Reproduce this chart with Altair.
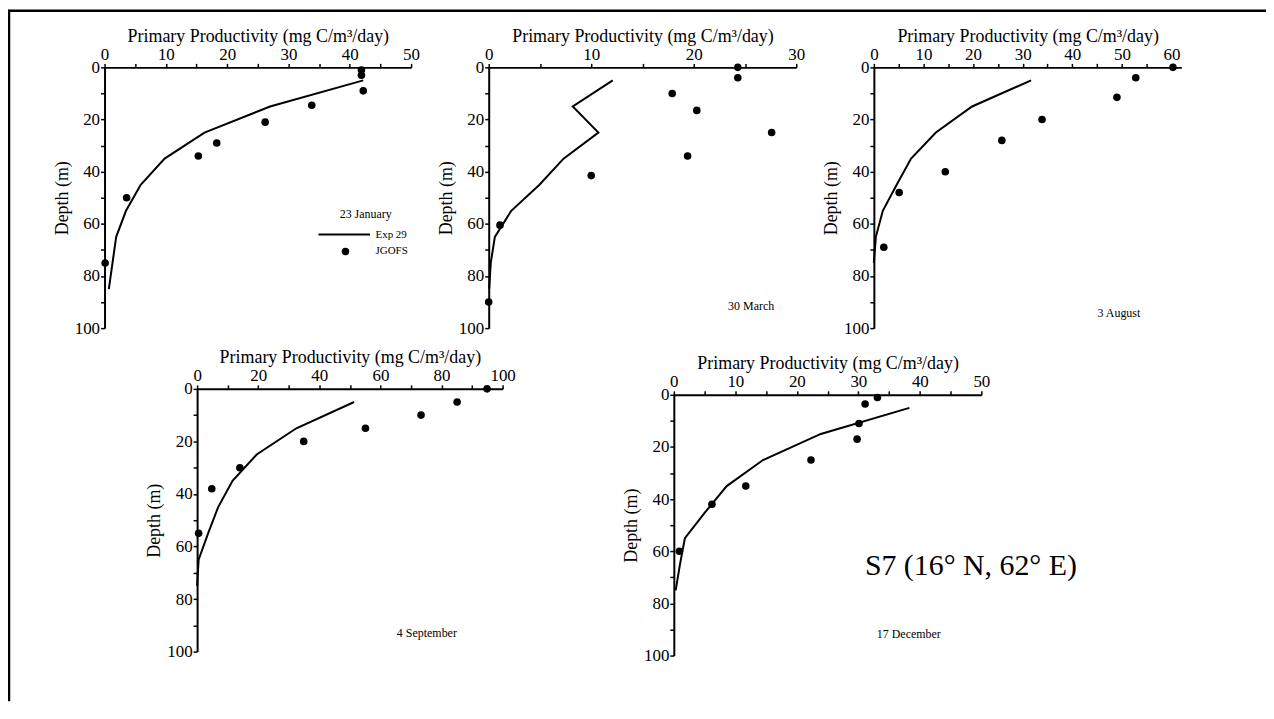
import altair as alt
import pandas as pd

FONT = "Liberation Serif"
W, H = 1264, 695

# ---------------- data ----------------
depth_9 = [5, 15, 25, 35, 45, 55, 65, 75, 85]
depth_8 = [5, 15, 25, 35, 45, 55, 65, 75]

jan_exp = [42.2, 27.0, 16.3, 9.8, 5.9, 3.5, 1.9, 1.3, 0.7]
jan_obs_pp = [41.9, 41.9, 42.2, 33.8, 26.2, 18.3, 15.3, 3.6, 0.1]
jan_obs_depth = [1, 3, 9, 14.5, 21, 29, 34, 50, 75]

mar_exp = [12.1, 8.2, 10.7, 7.3, 4.95, 2.2, 0.6, 0.2, 0.05]
mar_obs_pp = [24.3, 24.3, 17.9, 20.3, 27.6, 19.4, 10.0, 1.1, 0.0]
mar_obs_depth = [0, 4, 10, 16.5, 25, 34, 41.5, 60.5, 90]

aug_exp = [31.7, 19.8, 12.5, 7.5, 4.6, 1.8, 0.4, 0.0]
aug_obs_pp = [60.3, 52.8, 49.0, 33.9, 25.8, 14.4, 5.1, 2.0]
aug_obs_depth = [0, 4, 11.5, 20, 28, 40, 48, 69]

sep_exp = [51.4, 32.5, 19.5, 11.6, 6.9, 3.6, 0.5, 0.0]
sep_obs_pp = [94.9, 85.1, 73.3, 55.1, 34.9, 14.0, 4.8, 0.5]
sep_obs_depth = [0, 5, 10, 15, 20, 30, 38, 55]

dec_exp = [38.3, 23.9, 14.5, 8.6, 5.1, 1.8, 1.0, 0.3]
dec_obs_pp = [33.1, 31.1, 30.1, 29.8, 22.3, 11.7, 6.2, 0.9]
dec_obs_depth = [1, 3.5, 11, 17, 25, 35, 42, 60]

dates = ["23 January", "30 March", "3 August", "4 September", "17 December"]
date_pp = [42.6, 25.6, 49.4, 75.2, 38.2]
date_depth = [56.1, 91.6, 94.2, 92.8, 91.9]

legend_line_pp = [34.9, 43.3]
legend_line_depth = [64.1, 64.1]
legend_dot_pp = [39.3]
legend_dot_depth = [70.6]
legend_labels = ["Exp 29", "JGOFS"]
legend_label_pp = [44.2, 44.2]
legend_label_depth = [64.1, 70.6]

station_label = "S7 (16° N, 62° E)"
station_pp = [48.3]
station_depth = [65.8]

x_title = "Primary Productivity (mg C/m³/day)"
y_title = "Depth (m)"

# ---------------- panel layout (pixel ranges of each panel) ----------------
panels = [
    dict(exp_d=depth_9, exp_v=jan_exp, obs_v=jan_obs_pp, obs_d=jan_obs_depth,
         xdom=[0, 50], xmax=50, step=10, xr=[97, 405], yr=[58, 320]),
    dict(exp_d=depth_9, exp_v=mar_exp, obs_v=mar_obs_pp, obs_d=mar_obs_depth,
         xdom=[0, 30], xmax=30, step=10, xr=[483, 792], yr=[58, 320]),
    dict(exp_d=depth_8, exp_v=aug_exp, obs_v=aug_obs_pp, obs_d=aug_obs_depth,
         xdom=[0, 62], xmax=60, step=10, xr=[870, 1179], yr=[58, 320]),
    dict(exp_d=depth_8, exp_v=sep_exp, obs_v=sep_obs_pp, obs_d=sep_obs_depth,
         xdom=[0, 100], xmax=100, step=20, xr=[190, 497], yr=[381, 645]),
    dict(exp_d=depth_8, exp_v=dec_exp, obs_v=dec_obs_pp, obs_d=dec_obs_depth,
         xdom=[0, 50], xmax=50, step=10, xr=[669, 978], yr=[387, 649]),
]


def scales(p):
    xs = alt.Scale(domain=p["xdom"], range=p["xr"], nice=False, zero=False)
    ys = alt.Scale(domain=[0, 100], range=p["yr"], nice=False, zero=False)
    return xs, ys


common_axis = dict(
    domainColor="black", domainWidth=2, tickColor="black", tickWidth=1.5,
    tickSize=4, labelFont=FONT, labelFontSize=17, labelColor="black",
    titleFont=FONT, titleFontSize=18, titleFontWeight="normal",
    titleColor="black", grid=False, labelOverlap=False, labelFlush=False,
)


def x_axis(p):
    half = p["step"] // 2
    return alt.Axis(
        orient="top", offset=-p["yr"][0], title=x_title,
        values=list(range(0, p["xmax"] + 1, half)),
        labelExpr=f"datum.value % {p['step']} == 0 ? datum.label : ''",
        labelPadding=0, titlePadding=0, **common_axis)


def y_axis(p):
    return alt.Axis(
        orient="left", offset=-p["xr"][0], title=y_title,
        values=list(range(0, 101, 10)),
        labelExpr="datum.value % 20 == 0 ? datum.label : ''",
        labelPadding=1, titlePadding=3, **common_axis)


layers = []
for i, p in enumerate(panels):
    xs, ys = scales(p)
    df_line = pd.DataFrame({"pp": p["exp_v"], "depth": p["exp_d"]})
    df_obs = pd.DataFrame({"pp": p["obs_v"], "depth": p["obs_d"]})
    layers.append(
        alt.Chart(df_line).mark_line(color="black", strokeWidth=2).encode(
            x=alt.X("pp:Q", scale=xs, axis=x_axis(p)),
            y=alt.Y("depth:Q", scale=ys, axis=y_axis(p)),
            order=alt.Order("depth:Q"),
        )
    )
    layers.append(
        alt.Chart(df_obs).mark_circle(color="black", opacity=1, size=58).encode(
            x=alt.X("pp:Q", scale=xs, axis=None),
            y=alt.Y("depth:Q", scale=ys, axis=None),
        )
    )
    df_date = pd.DataFrame({"pp": [date_pp[i]], "depth": [date_depth[i]], "t": [dates[i]]})
    layers.append(
        alt.Chart(df_date).mark_text(font=FONT, fontSize=12, color="black",
                                     align="center", baseline="middle").encode(
            x=alt.X("pp:Q", scale=xs, axis=None),
            y=alt.Y("depth:Q", scale=ys, axis=None),
            text="t:N",
        )
    )

# legend in panel 1
xs1, ys1 = scales(panels[0])
layers.append(
    alt.Chart(pd.DataFrame({"pp": legend_line_pp, "depth": legend_line_depth}))
    .mark_line(color="black", strokeWidth=2)
    .encode(x=alt.X("pp:Q", scale=xs1, axis=None), y=alt.Y("depth:Q", scale=ys1, axis=None))
)
layers.append(
    alt.Chart(pd.DataFrame({"pp": legend_dot_pp, "depth": legend_dot_depth}))
    .mark_circle(color="black", opacity=1, size=58)
    .encode(x=alt.X("pp:Q", scale=xs1, axis=None), y=alt.Y("depth:Q", scale=ys1, axis=None))
)
layers.append(
    alt.Chart(pd.DataFrame({"pp": legend_label_pp, "depth": legend_label_depth, "t": legend_labels}))
    .mark_text(font=FONT, fontSize=11, color="black", align="left", baseline="middle")
    .encode(x=alt.X("pp:Q", scale=xs1, axis=None), y=alt.Y("depth:Q", scale=ys1, axis=None), text="t:N")
)

# station label in panel 5
xs5, ys5 = scales(panels[4])
layers.append(
    alt.Chart(pd.DataFrame({"pp": station_pp, "depth": station_depth, "t": [station_label]}))
    .mark_text(font=FONT, fontSize=30, color="black", align="center", baseline="middle")
    .encode(x=alt.X("pp:Q", scale=xs5, axis=None), y=alt.Y("depth:Q", scale=ys5, axis=None), text="t:N")
)

# figure frame (top and left edges)
frame_df = pd.DataFrame({"k": [0]})
layers.append(
    alt.Chart(frame_df).mark_rule(color="black", strokeWidth=2.5)
    .encode(x=alt.value(0), x2=alt.value(W), y=alt.value(1))
)
layers.append(
    alt.Chart(frame_df).mark_rule(color="black", strokeWidth=2.5)
    .encode(x=alt.value(1), y=alt.value(0), y2=alt.value(H))
)

chart = (
    alt.layer(*layers)
    .resolve_scale(x="independent", y="independent")
    .resolve_axis(x="independent", y="independent")
    .properties(width=W, height=H, background="white",
                padding={"left": 0, "top": 0, "right": 0, "bottom": 0},
                autosize=alt.AutoSizeParams(type="none"))
    .configure_view(stroke=None)
)

chart.save("out.html", embed_options={"renderer": "svg", "actions": False})
